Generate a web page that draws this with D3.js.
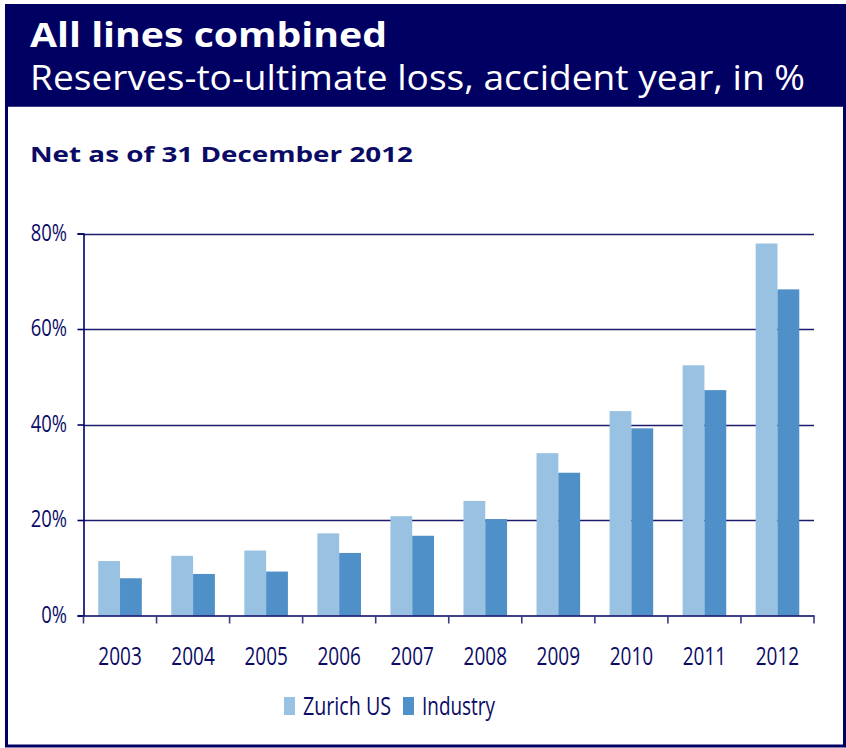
<!DOCTYPE html>
<html>
<head>
<meta charset="utf-8">
<script src="https://cdn.jsdelivr.net/npm/d3@7/dist/d3.min.js"></script>
<style>
  html, body { margin: 0; padding: 0; background: #ffffff; }
  svg { display: block; }
</style>
</head>
<body>
<svg id="chart" width="846" height="748"></svg>
<script>
// Reserves-to-ultimate loss by accident year, net as of 31 December 2012
const years = ["2003", "2004", "2005", "2006", "2007", "2008", "2009", "2010", "2011", "2012"];
const zurichUS = [11.4, 12.5, 13.6, 17.2, 20.8, 24.0, 34.0, 42.8, 52.4, 77.9];
const industry = [7.8, 8.7, 9.2, 13.1, 16.7, 20.2, 29.9, 39.2, 47.2, 68.3];
const seriesNames = ["Zurich US", "Industry"];
const yTicks = [0, 20, 40, 60, 80];

const navy = "#000062";
const textNavy = "#0b0b66";
const colors = ["#98c1e2", "#4f90c8"];
const font = "'Open Sans', 'Noto Sans', sans-serif";

// Narrow the rendered text to a condensed width while keeping its height
function condense(sel, factor) {
  sel.each(function () {
    const w = this.getComputedTextLength();
    d3.select(this).attr("textLength", w * factor).attr("lengthAdjust", "spacingAndGlyphs");
  });
}

const svg = d3.select("#chart");

// Frame and header band
svg.append("rect").attr("x", 6.5).attr("y", 5.5).attr("width", 838).attr("height", 740.5)
  .attr("fill", "#ffffff").attr("stroke", navy).attr("stroke-width", 3);
svg.append("rect").attr("x", 5).attr("y", 4).attr("width", 841).attr("height", 102).attr("fill", navy);
svg.append("line").attr("x1", 8).attr("x2", 843).attr("y1", 106.5).attr("y2", 106.5)
  .attr("stroke", "#3a3a8a").attr("stroke-width", 1);

svg.append("text").attr("x", 30).attr("y", 47).attr("fill", "#ffffff")
  .attr("font-family", font).attr("font-weight", 700).attr("font-size", 34)
  .attr("textLength", 357).attr("lengthAdjust", "spacingAndGlyphs")
  .text("All lines combined");
svg.append("text").attr("x", 30).attr("y", 90).attr("fill", "#ffffff")
  .attr("font-family", font).attr("font-weight", 400).attr("font-size", 35)
  .attr("textLength", 775).attr("lengthAdjust", "spacingAndGlyphs")
  .text("Reserves-to-ultimate loss, accident year, in %");

svg.append("text").attr("x", 30).attr("y", 162).attr("fill", textNavy)
  .attr("font-family", font).attr("font-weight", 700).attr("font-size", 22)
  .attr("textLength", 383).attr("lengthAdjust", "spacingAndGlyphs")
  .text("Net as of 31 December 2012");

// Plot area
const plotLeft = 83.5, plotRight = 814, plotTop = 233.5, plotBottom = 615.5;
const x = d3.scaleBand().domain(years).range([plotLeft, plotRight]).paddingInner(0).paddingOuter(0);
const groupWidth = 43.6;
const inner = d3.scaleBand().domain(seriesNames).range([0, groupWidth]);
const groupOffset = (x.bandwidth() - groupWidth) / 2;
const y = d3.scaleLinear().domain([0, 80]).range([plotBottom, plotTop]);

// Gridlines
svg.append("g").selectAll("line").data(yTicks.filter(d => d > 0)).join("line")
  .attr("x1", plotLeft).attr("x2", plotRight)
  .attr("y1", d => Math.round(y(d)) + 0.5).attr("y2", d => Math.round(y(d)) + 0.5)
  .attr("stroke", "#1c1c6e").attr("stroke-width", 1.7);

// Bars
const rows = years.map((yr, i) => ({ year: yr, values: [zurichUS[i], industry[i]] }));
const groups = svg.append("g").selectAll("g").data(rows).join("g")
  .attr("transform", d => `translate(${x(d.year) + groupOffset},0)`);
groups.selectAll("rect").data(d => d.values.map((v, j) => ({ name: seriesNames[j], v, j }))).join("rect")
  .attr("x", d => inner(d.name))
  .attr("width", inner.bandwidth())
  .attr("y", d => y(d.v))
  .attr("height", d => y(0) - y(d.v))
  .attr("fill", d => colors[d.j]);

// Y axis
const yAxis = d3.axisLeft(y).tickValues(yTicks).tickSize(6).tickPadding(10).tickFormat(d => d + "%");
const gy = svg.append("g").attr("transform", `translate(${plotLeft},0)`).call(yAxis);
gy.select(".domain").attr("stroke", navy).attr("stroke-width", 1.6);
gy.selectAll(".tick line").attr("stroke", navy).attr("stroke-width", 1.6);
gy.selectAll(".tick text").attr("fill", textNavy).attr("font-family", font)
  .attr("font-size", 23).attr("dy", "0.3em").attr("x", -16.5)
  .call(condense, 0.8);

// X axis with ticks at category boundaries
const xAxis = d3.axisBottom(x).tickSize(0).tickPadding(0);
const gx = svg.append("g").attr("transform", `translate(0,${plotBottom})`).call(xAxis);
gx.select(".domain").attr("stroke", navy).attr("stroke-width", 1.6);
gx.selectAll(".tick text").attr("fill", textNavy).attr("font-family", font)
  .attr("font-size", 26).attr("dy", null).attr("y", 49)
  .call(condense, 0.73);
const boundaries = years.map(d => x(d)).concat([plotRight]);
svg.append("g").selectAll("line").data(boundaries).join("line")
  .attr("x1", d => d).attr("x2", d => d)
  .attr("y1", plotBottom).attr("y2", plotBottom + 8)
  .attr("stroke", "#3a3a86").attr("stroke-width", 1.6);

// Legend
const legendItems = [
  { name: seriesNames[0], color: colors[0], x: 284, w: 88 },
  { name: seriesNames[1], color: colors[1], x: 403, w: 73 }
];
const lg = svg.append("g").selectAll("g").data(legendItems).join("g")
  .attr("transform", d => `translate(${d.x},0)`);
lg.append("rect").attr("x", 0).attr("y", 697).attr("width", 11).attr("height", 18).attr("fill", d => d.color);
lg.append("text").attr("x", 19).attr("y", 715).attr("fill", textNavy)
  .attr("font-family", font).attr("font-size", 25)
  .attr("textLength", d => d.w).attr("lengthAdjust", "spacingAndGlyphs")
  .text(d => d.name);
</script>
</body>
</html>
